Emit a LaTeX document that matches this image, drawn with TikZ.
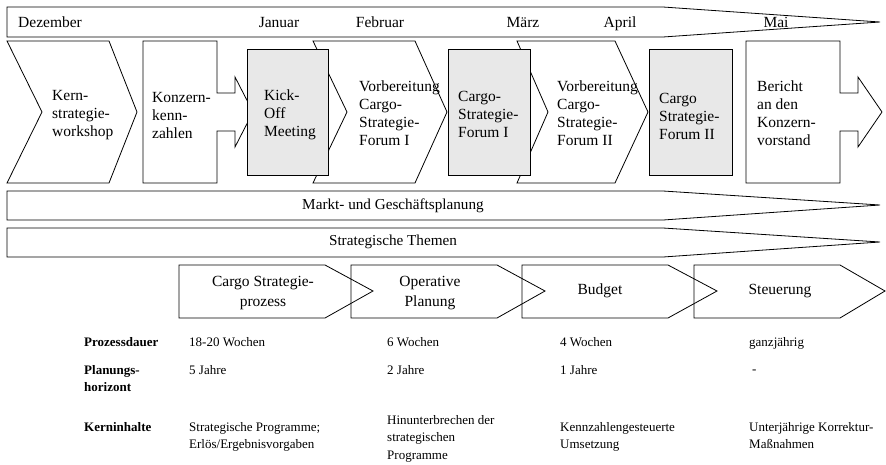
\documentclass[tikz,border=0pt]{standalone}
\usepackage{fontspec}
\setmainfont{Liberation Serif}
\begin{document}
\begin{tikzpicture}[x=1pt,y=-1pt,
  stepshape/.style={draw=black,line width=0.8pt,line join=miter,fill=white},
  greybox/.style={draw=black,line width=0.8pt,fill=boxgrey},
  outline/.style={draw=black,line width=0.8pt},
  bigtext/.style={font=\fontsize{15.5}{18}\selectfont},
  monthtext/.style={bigtext,anchor=base,inner sep=0pt},
  steptext/.style={bigtext,anchor=west,align=left,inner sep=0pt},
  bandtext/.style={font=\fontsize{15.2}{18}\selectfont,inner sep=0pt},
  cycletext/.style={font=\fontsize{15.5}{19.5}\selectfont,align=center,inner sep=0pt},
  smalltext/.style={font=\fontsize{13}{17.6}\selectfont,anchor=north west,align=left,inner sep=0pt},
  rowlabel/.style={smalltext,font=\fontsize{13}{17.6}\selectfont\bfseries}]
\definecolor{boxgrey}{RGB}{232,232,232}
\useasboundingbox (0,0) rectangle (886,464);

% month timeline
\path[outline] (7,7) -- (663,7) -- (880,22) -- (663,37) -- (7,37) -- cycle;
\node[monthtext,anchor=base west] (dez) at (18,27) {Dezember};
\node[monthtext] (jan) at (279,27) {Januar};
\node[monthtext] (feb) at (380,27) {Februar};
\node[monthtext] (mar) at (523,27) {März};
\node[monthtext] (apr) at (620,27) {April};
\node[monthtext] (mai) at (776,27) {Mai};

% process steps
\path[stepshape] (7,41) -- (109,41) -- (137,112) -- (109,183) -- (7,183) -- (42,112) -- cycle;
\path[stepshape] (143,41) -- (217,41) -- (217,93) -- (235,93) -- (235,77) -- (253,112)
  -- (235,147) -- (235,131) -- (217,131) -- (217,183) -- (143,183) -- cycle;
\path[stepshape] (313,41) -- (415,41) -- (447,112) -- (415,183) -- (313,183) -- (347,112) -- cycle;
\path[stepshape] (517,41) -- (615,41) -- (648,112) -- (615,183) -- (517,183) -- (548,112) -- cycle;
\path[stepshape] (746,41) -- (840,41) -- (840,93) -- (858,93) -- (858,77) -- (882,112)
  -- (858,147) -- (858,131) -- (840,131) -- (840,183) -- (746,183) -- cycle;
\path[greybox] (247,49) rectangle (328,175);
\path[greybox] (448,49) rectangle (530,175);
\path[greybox] (649,49) rectangle (732,175);

\node[steptext] (kern) at (52,115) {Kern-\\strategie-\\workshop};
\node[steptext] (konz) at (152,115) {Konzern-\\kenn-\\zahlen};
\node[steptext] (kick) at (264,115) {Kick-\\Off\\Meeting};
\node[steptext] (vorb1) at (359,113) {Vorbereitung\\Cargo-\\Strategie-\\Forum I};
\node[steptext] (forum1) at (458,114) {Cargo-\\Strategie-\\Forum I};
\node[steptext] (vorb2) at (557,113) {Vorbereitung\\Cargo-\\Strategie-\\Forum II};
\node[steptext] (forum2) at (659,116) {Cargo\\Strategie-\\Forum II};
\node[steptext] (bericht) at (757,113) {Bericht\\an den\\Konzern-\\vorstand};

% continuous bands
\path[outline] (7,191) -- (663,191) -- (880,205) -- (663,220) -- (7,220) -- cycle;
\node[bandtext] (markt) at (393,206) {Markt- und Geschäftsplanung};
\path[outline] (7,228) -- (663,228) -- (880,242) -- (663,257) -- (7,257) -- cycle;
\node[bandtext] (themen) at (393,242) {Strategische Themen};

% planning cycle
\path[outline] (179,265) -- (325,265) -- (373,291) -- (325,318) -- (179,318) -- cycle;
\path[outline] (351,265) -- (497,265) -- (545,291) -- (497,318) -- (351,318) -- cycle;
\path[outline] (522,265) -- (668,265) -- (717,291) -- (668,318) -- (522,318) -- cycle;
\path[outline] (694,265) -- (840,265) -- (885,291) -- (840,318) -- (694,318) -- cycle;
\node[cycletext] (csp) at (263,293) {Cargo Strategie-\\prozess};
\node[cycletext] (opl) at (430,293) {Operative\\Planung};
\node[cycletext] (bud) at (600,291) {Budget};
\node[cycletext] (steu) at (780,291) {Steuerung};

% characteristics
\node[rowlabel] (l1) at (84,337) {Prozessdauer};
\node[rowlabel] (l2) at (84,365) {Planungs-\\horizont};
\node[rowlabel] (l3) at (84,422) {Kerninhalte};

\node[smalltext] (a1) at (189,337) {18-20 Wochen};
\node[smalltext] (b1) at (387,337) {6 Wochen};
\node[smalltext] (c1) at (560,337) {4 Wochen};
\node[smalltext] (d1) at (749,337) {ganzjährig};

\node[smalltext] (a2) at (189,365) {5 Jahre};
\node[smalltext] (b2) at (387,365) {2 Jahre};
\node[smalltext] (c2) at (560,365) {1 Jahre};
\node[smalltext] (d2) at (752,365) {\vphantom{J}-};

\node[smalltext] (a3) at (189,422) {Strategische Programme;\\Erlös/Ergebnisvorgaben};
\node[smalltext] (b3) at (387,415) {Hinunterbrechen der\\strategischen\\Programme};
\node[smalltext] (c3) at (560,422) {Kennzahlengesteuerte\\Umsetzung};
\node[smalltext] (d3) at (749,422) {Unterjährige Korrektur-\\Maßnahmen};
\end{tikzpicture}
\end{document}
